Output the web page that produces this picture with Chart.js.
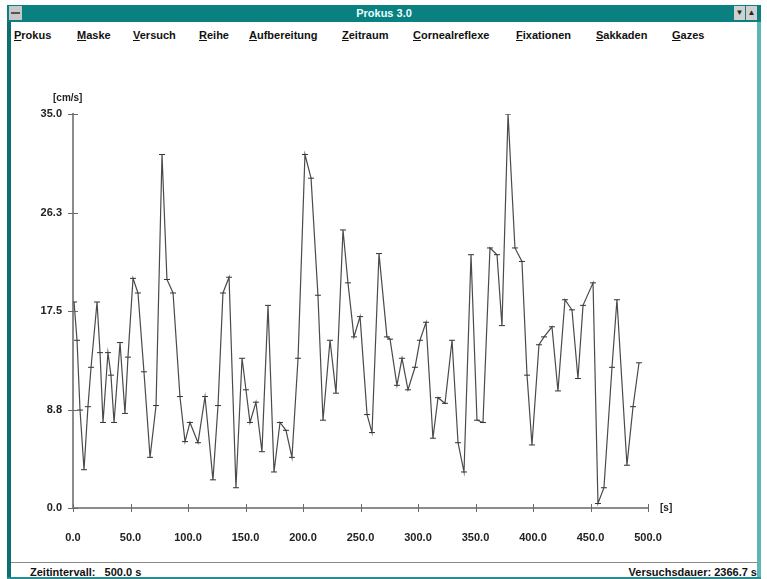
<!DOCTYPE html>
<html>
<head>
<meta charset="utf-8">
<title>Prokus 3.0</title>
<script src="https://cdn.jsdelivr.net/npm/chart.js@4/dist/chart.umd.min.js"></script>
<style>
  html, body { margin: 0; padding: 0; background: #ffffff; }
  body { width: 767px; height: 579px; position: relative; overflow: hidden;
         font-family: "Liberation Sans", Arial, sans-serif; }
  .abs { position: absolute; }
  #frameL { left: 7px; top: 5px; width: 4px; height: 574px; background: #0f6e70; }
  #frameR { left: 757px; top: 5px; width: 4px; height: 574px; background: #5fb4b4; }
  #title { left: 7px; top: 5px; width: 754px; height: 17px; background: #0b8080; }
  #title span { position: absolute; left: 0; right: 0; top: 2px; text-align: center;
                color: #e8ffff; font-weight: bold; font-size: 11px; }
  #sysbox { left: 9px; top: 6px; width: 13px; height: 14px; background: #c8c8c8; }
  #sysbox div { position: absolute; left: 2px; top: 6px; width: 9px; height: 2px; background: #555; }
  .btn { top: 6px; width: 11px; height: 14px; background: #d0d0d0; font-size: 8px;
         line-height: 14px; text-align: center; color: #222; }
  #menu { left: 11px; top: 22px; width: 746px; height: 21px; background: #fff; }
  .item { top: 29px; font-size: 11px; font-weight: bold; color: #111; white-space: nowrap; }
  .item u { text-decoration: underline; }
  #client { left: 11px; top: 44px; width: 746px; height: 518px; background: #fff; }
  #statusLine { left: 11px; top: 562px; width: 746px; height: 1px; background: #8a8a8a; }
  #statusBot { left: 7px; top: 577px; width: 754px; height: 2px; background: #2a8c8c; }
  .status { top: 566px; font-size: 11px; font-weight: bold; color: #111; white-space: nowrap; }
</style>
</head>
<body>
<div id="frameL" class="abs"></div>
<div id="frameR" class="abs"></div>
<div id="title" class="abs"><span>Prokus 3.0</span></div>
<div id="sysbox" class="abs"><div></div></div>
<div class="abs btn" style="left:734px;">&#9660;</div>
<div class="abs btn" style="left:746px;">&#9650;</div>
<div id="menu" class="abs"></div>
<div class="abs item" style="left:14px;"><u>P</u>rokus</div>
<div class="abs item" style="left:77px;"><u>M</u>aske</div>
<div class="abs item" style="left:133px;"><u>V</u>ersuch</div>
<div class="abs item" style="left:199px;"><u>R</u>eihe</div>
<div class="abs item" style="left:249px;"><u>A</u>ufbereitung</div>
<div class="abs item" style="left:342px;"><u>Z</u>eitraum</div>
<div class="abs item" style="left:413px;"><u>C</u>ornealreflexe</div>
<div class="abs item" style="left:516px;"><u>F</u>ixationen</div>
<div class="abs item" style="left:596px;"><u>S</u>akkaden</div>
<div class="abs item" style="left:672px;"><u>G</u>azes</div>
<div id="client" class="abs"><canvas id="chart" width="746" height="518"></canvas></div>
<div id="statusLine" class="abs"></div>
<div class="abs status" style="left:30px;">Zeitintervall:&nbsp;&nbsp;&nbsp;500.0 s</div>
<div class="abs status" style="right:10px;">Versuchsdauer: 2366.7 s</div>
<div id="statusBot" class="abs"></div>

<script>
// Measurement time points [s]
const times = [
  0.9, 3.5, 6.1, 9.6, 13.0, 15.7, 20.9, 23.5, 26.1, 30.4,
  33.0, 35.7, 40.9, 45.2, 47.8, 52.2, 56.5, 61.7, 67.0, 72.2,
  77.4, 81.7, 87.0, 93.0, 97.4, 101.7, 108.7, 114.8, 121.7, 126.1,
  130.4, 135.7, 141.7, 147.0, 150.4, 153.9, 159.1, 164.3, 169.6, 174.8,
  180.0, 185.2, 190.4, 195.7, 201.7, 207.0, 213.0, 217.4, 223.5, 228.7,
  234.8, 239.1, 244.3, 249.6, 255.7, 260.0, 266.1, 273.0, 275.7, 281.7,
  286.1, 291.3, 297.4, 301.7, 307.0, 313.0, 317.4, 323.5, 329.6, 334.8,
  340.0, 346.1, 351.3, 356.5, 362.6, 368.7, 373.0, 378.3, 384.3, 390.4,
  394.8, 399.1, 405.2, 409.6, 416.5, 421.7, 427.8, 433.9, 439.1, 443.5,
  452.2, 456.5, 461.7, 468.7, 473.0, 481.7, 487.0, 492.2
];
// Speed [cm/s]
const speeds = [
  18.3, 14.9, 8.7, 3.4, 9.0, 12.5, 18.3, 13.8, 7.6, 13.8,
  11.8, 7.6, 14.7, 8.4, 13.4, 20.4, 19.1, 12.1, 4.5, 9.1,
  31.4, 20.3, 19.1, 9.9, 5.9, 7.6, 5.8, 9.9, 2.5, 9.1,
  19.1, 20.5, 1.8, 13.3, 10.5, 7.6, 9.4, 5.0, 18.0, 3.2,
  7.6, 6.9, 4.5, 13.3, 31.4, 29.3, 18.9, 7.8, 14.9, 10.2,
  24.7, 20.0, 15.2, 17.0, 8.3, 6.7, 22.6, 15.2, 15.0, 10.9,
  13.3, 10.5, 12.5, 14.9, 16.5, 6.2, 9.8, 9.3, 14.9, 5.8,
  3.2, 22.5, 7.8, 7.6, 23.1, 22.5, 16.2, 35.0, 23.1, 21.9,
  11.8, 5.6, 14.5, 15.2, 16.1, 10.4, 18.5, 17.6, 11.5, 18.0,
  20.0, 0.4, 1.8, 12.5, 18.5, 3.8, 9.0, 12.9
];
// Axis ticks
const xTickValues = [0, 50, 100, 150, 200, 250, 300, 350, 400, 450, 500];
const xTickLabels = ["0.0", "50.0", "100.0", "150.0", "200.0", "250.0", "300.0", "350.0", "400.0", "450.0", "500.0"];
const yTickValues = [0, 8.75, 17.5, 26.25, 35];
const yTickLabels = ["0.0", "8.8", "17.5", "26.3", "35.0"];
const yUnit = "[cm/s]";
const xUnit = "[s]";

const axisColor = "#8c8c8c";
const tickFont = { family: "Liberation Sans", size: 11, weight: "bold" };

// Tick marks crossing the axes plus the unit labels
const axisDecor = {
  id: "axisDecor",
  afterDraw(chart) {
    const { ctx, chartArea, scales } = chart;
    const xs = scales.x, ys = scales.y;
    ctx.save();
    ctx.strokeStyle = "#6a6a6a";
    ctx.lineWidth = 1;
    ctx.beginPath();
    yTickValues.forEach(v => {
      const py = Math.round(ys.getPixelForValue(v)) + 0.5;
      ctx.moveTo(chartArea.left - 5, py);
      ctx.lineTo(chartArea.left + 5, py);
    });
    xTickValues.forEach(v => {
      const px = Math.round(xs.getPixelForValue(v)) + 0.5;
      ctx.moveTo(px, chartArea.bottom - 4);
      ctx.lineTo(px, chartArea.bottom + 4);
    });
    ctx.stroke();
    ctx.fillStyle = "#222";
    ctx.font = "bold 10px 'Liberation Sans'";
    ctx.textBaseline = "middle";
    ctx.textAlign = "left";
    ctx.fillText(yUnit, chartArea.left - 20, chartArea.top - 16);
    ctx.fillText(xUnit, chartArea.right + 12, chartArea.bottom);
    ctx.restore();
  }
};

new Chart(document.getElementById("chart"), {
  type: "line",
  data: {
    datasets: [{
      data: times.map((t, i) => ({ x: t, y: speeds[i] })),
      borderColor: "#4a4a4a",
      borderWidth: 1.2,
      pointStyle: "line",
      pointRadius: 3,
      pointBorderColor: "#333",
      pointBorderWidth: 1,
      pointHoverRadius: 3,
      tension: 0,
      fill: false
    }]
  },
  options: {
    responsive: false,
    animation: false,
    events: [],
    layout: { padding: { left: 0, top: 70, right: 109, bottom: 10 } },
    plugins: { legend: { display: false }, tooltip: { enabled: false } },
    scales: {
      x: {
        type: "linear",
        min: 0, max: 500,
        afterBuildTicks: s => { s.ticks = xTickValues.map(v => ({ value: v })); },
        afterFit: s => { s.height = 44; },
        grid: { display: false, drawTicks: false },
        border: { display: true, color: axisColor, width: 2 },
        ticks: {
          padding: 23,
          maxRotation: 0,
          autoSkip: false,
          color: "#222",
          font: tickFont,
          callback: (v, i) => xTickLabels[i]
        }
      },
      y: {
        type: "linear",
        min: 0, max: 35,
        afterBuildTicks: s => { s.ticks = yTickValues.map(v => ({ value: v })); },
        afterFit: s => { s.width = 62; },
        grid: { display: false, drawTicks: false },
        border: { display: true, color: axisColor, width: 2 },
        ticks: {
          padding: 11,
          autoSkip: false,
          color: "#222",
          font: tickFont,
          callback: (v, i) => yTickLabels[i]
        }
      }
    }
  },
  plugins: [axisDecor]
});
</script>
</body>
</html>
